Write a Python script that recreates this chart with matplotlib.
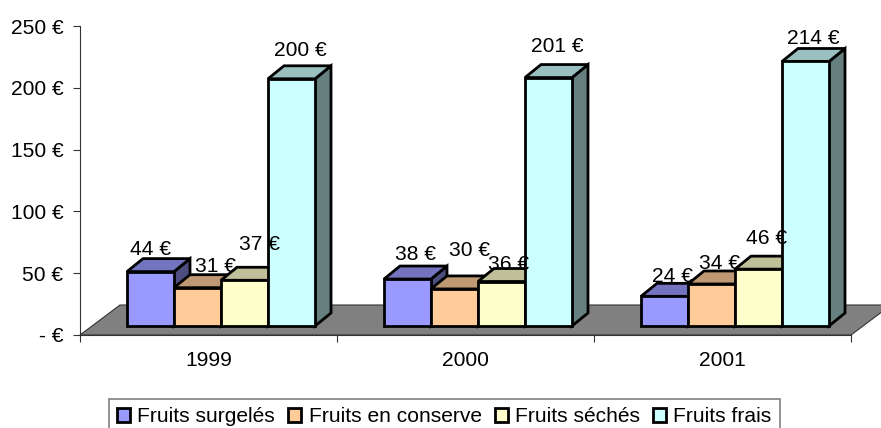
import numpy as np
import matplotlib
matplotlib.use("Agg")
import matplotlib.pyplot as plt
from matplotlib.patches import Polygon, Patch

plt.rcParams['font.family'] = ['Liberation Sans', 'DejaVu Sans']

annees = ["1999", "2000", "2001"]
series = ["Fruits surgelés", "Fruits en conserve", "Fruits séchés", "Fruits frais"]
surgeles = [44, 38, 24]
conserve = [31, 30, 34]
seches = [37, 36, 46]
frais = [200, 201, 214]
valeurs = [surgeles, conserve, seches, frais]
yticks = [0, 50, 100, 150, 200, 250]
ylabels = ["- €", "50 €", "100 €", "150 €", "200 €", "250 €"]

couleurs = ["#9999FF", "#FFCC99", "#FFFFCC", "#CCFFFF"]
dessus = ["#7373BF", "#BF9973", "#BFBF99", "#99BFBF"]
cotes = ["#4D4D80", "#806650", "#808066", "#668080"]

# decalage des etiquettes en pixels (x, y) par rapport au haut de la barre
decal = [[(0, 22), (18, 21), (15, 36), (9, 28)],
         [(8, 25), (15, 38), (7, 17), (9, 31)],
         [(8, 20), (8, 20), (8, 31), (8, 23)]]

taille = 15.1

W, H = 881, 428
fig = plt.figure(figsize=(W / 100, H / 100), dpi=100)
ax = fig.add_axes([80 / W, 1 - 335 / H, 771 / W, 309 / H])
ax.set_xlim(0, 3)
ax.set_ylim(0, 250)
ppx = 3 / 771
ppy = 250 / 309

# sol gris
sol = Polygon([(0, 0), (3, 0), (3 + 40 * ppx, 30 * ppy), (40 * ppx, 30 * ppy)],
              closed=True, fc="#808080", ec="#333333", lw=0.8, clip_on=False, zorder=1)
ax.add_patch(sol)

larg = 47 * ppx
dx = 16 * ppx
dy = 13 * ppy
y0 = 9 * ppy
lw = 2.0
for i in range(len(annees)):
    gauche = i + 47 * ppx
    for j in range(len(series)):
        x0 = gauche + j * larg
        x1 = x0 + larg
        y1 = y0 + valeurs[j][i]
        z = 2 + i * 10 + j
        ax.add_patch(Polygon([(x1, y0), (x1 + dx, y0 + dy), (x1 + dx, y1 + dy), (x1, y1)],
                             fc=cotes[j], ec="black", lw=lw, clip_on=False, zorder=z, joinstyle="miter"))
        ax.add_patch(Polygon([(x0, y1), (x1, y1), (x1 + dx, y1 + dy), (x0 + dx, y1 + dy)],
                             fc=dessus[j], ec="black", lw=lw, clip_on=False, zorder=z, joinstyle="miter"))
        ax.add_patch(Polygon([(x0, y0), (x1, y0), (x1, y1), (x0, y1)],
                             fc=couleurs[j], ec="black", lw=lw, clip_on=False, zorder=z, joinstyle="miter"))
        ox, oy = decal[i][j]
        ax.annotate(f"{valeurs[j][i]} €", xy=((x0 + x1) / 2, y1), xytext=(ox * 0.72, oy * 0.72),
                    textcoords="offset points", ha="center", va="center",
                    fontsize=taille, color="black", zorder=100, annotation_clip=False)

for s in ["top", "right"]:
    ax.spines[s].set_visible(False)
for s in ["left", "bottom"]:
    ax.spines[s].set_color("#333333")
    ax.spines[s].set_linewidth(0.8)
    ax.spines[s].set_zorder(1.5)
ax.patch.set_alpha(0)

ax.set_yticks(yticks)
ax.set_yticklabels(ylabels, fontsize=taille)
ax.set_xticks([0, 1, 2, 3])
ax.set_xticklabels([])
ax.set_xticks([0.5, 1.5, 2.5], minor=True)
ax.set_xticklabels(annees, minor=True, fontsize=taille)
ax.tick_params(axis="x", which="major", length=5, width=0.8, color="#333333")
ax.tick_params(axis="x", which="minor", length=0, pad=11.5)
ax.tick_params(axis="y", length=5, width=0.8, color="#333333", pad=7)

poignees = [Patch(fc=c, ec="black", lw=lw) for c in couleurs]
leg = fig.legend(poignees, series, ncols=4, loc="upper left", bbox_to_anchor=(108.5 / W, 1 - 398.5 / H),
                 fontsize=taille, frameon=True, fancybox=False, edgecolor="#808080", framealpha=1,
                 handlelength=0.62, handleheight=0.62, handletextpad=0.34, columnspacing=0.63,
                 borderpad=0.42, borderaxespad=0)
leg.get_frame().set_linewidth(1.2)

fig.savefig("out.png", dpi=100)
